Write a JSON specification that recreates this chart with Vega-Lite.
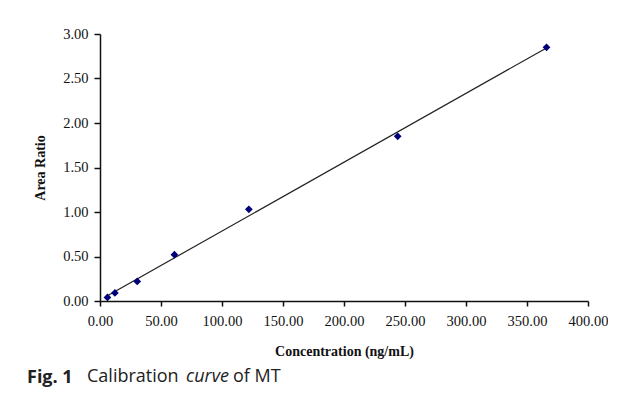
{
  "$schema": "https://vega.github.io/schema/vega-lite/v6.json",
  "autosize": {"type": "pad"},
  "padding": {"left": 27, "top": 26, "right": 0, "bottom": 0},
  "background": "white",
  "data": {
    "values": [
      {"conc": 6.1, "ratio": 0.04},
      {"conc": 12.2, "ratio": 0.09},
      {"conc": 30.5, "ratio": 0.22},
      {"conc": 61, "ratio": 0.52},
      {"conc": 122, "ratio": 1.03},
      {"conc": 244, "ratio": 1.85},
      {"conc": 366, "ratio": 2.85}
    ]
  },
  "title": {
    "text": "of MT",
    "orient": "bottom",
    "anchor": "start",
    "frame": "group",
    "dx": 133,
    "offset": -19,
    "font": "Open Sans",
    "fontSize": 18,
    "fontWeight": "normal",
    "color": "#222222"
  },
  "config": {
    "view": {"stroke": null},
    "axis": {
      "grid": false,
      "domainColor": "#111111",
      "domainWidth": 1.5,
      "tickColor": "#111111",
      "tickWidth": 1.5,
      "tickSize": 5,
      "labelFont": "Liberation Serif",
      "labelFontSize": 14.5,
      "labelColor": "#111111",
      "titleFont": "Liberation Serif",
      "titleFontSize": 14,
      "titleFontWeight": "bold",
      "titleColor": "#111111"
    }
  },
  "vconcat": [
    {
      "title": {
        "text": "curve",
        "orient": "bottom",
        "anchor": "start",
        "frame": "group",
        "dx": 86,
        "offset": -19,
        "font": "Open Sans",
        "fontSize": 18,
        "fontStyle": "italic",
        "fontWeight": "normal",
        "color": "#222222"
      },
      "vconcat": [
        {
          "title": {
            "text": "Calibration",
            "orient": "bottom",
            "anchor": "start",
            "frame": "group",
            "dx": -13,
            "offset": -19,
            "font": "Open Sans",
            "fontSize": 18,
            "fontWeight": "normal",
            "color": "#222222"
          },
          "vconcat": [
            {
              "width": 488,
              "height": 267,
              "title": {
                "text": "Fig. 1",
                "orient": "bottom",
                "anchor": "start",
                "frame": "group",
                "dx": -73,
                "offset": 10,
                "font": "Open Sans",
                "fontSize": 18,
                "fontWeight": "bold",
                "color": "#222222"
              },
              "encoding": {
                "x": {
                  "field": "conc",
                  "type": "quantitative",
                  "scale": {"domain": [0, 400], "nice": false},
                  "axis": {"title": "Concentration (ng/mL)", "values": [0, 50, 100, 150, 200, 250, 300, 350, 400], "format": ".2f", "labelPadding": 8, "titlePadding": 17, "labelFlush": false}
                },
                "y": {
                  "field": "ratio",
                  "type": "quantitative",
                  "scale": {"domain": [0, 3], "nice": false},
                  "axis": {"title": "Area Ratio", "values": [0, 0.5, 1, 1.5, 2, 2.5, 3], "format": ".2f", "labelPadding": 6, "tickSize": 6, "titlePadding": 15, "labelFlush": false}
                }
              },
              "layer": [
                {
                  "transform": [{"regression": "ratio", "on": "conc", "extent": [6.1, 366]}],
                  "mark": {"type": "line", "color": "#222222", "strokeWidth": 1.2}
                },
                {
                  "mark": {"type": "point", "shape": "diamond", "filled": true, "color": "#00007a", "size": 60, "opacity": 1}
                }
              ]
            }
          ]
        }
      ]
    }
  ]
}
